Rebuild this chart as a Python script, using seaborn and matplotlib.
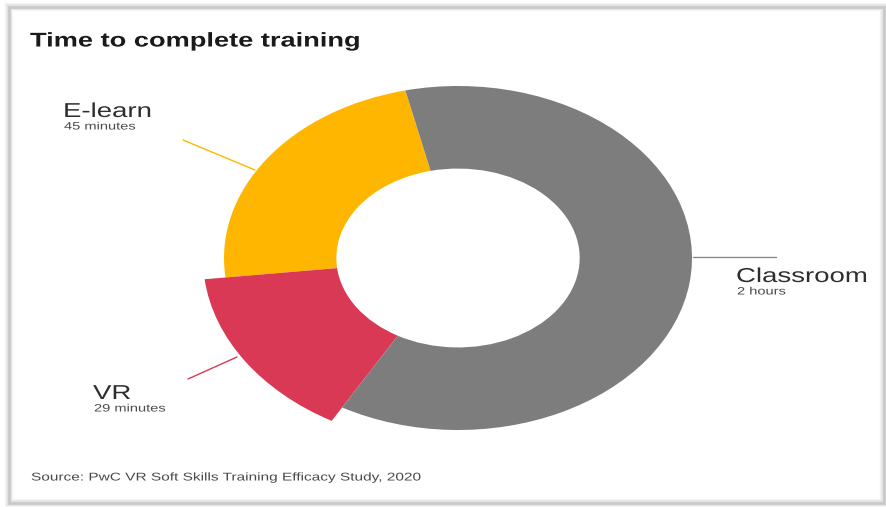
import matplotlib
matplotlib.use("Agg")
import matplotlib.pyplot as plt
from matplotlib.patches import Rectangle
from matplotlib.patheffects import AbstractPathEffect
from matplotlib.transforms import Affine2D
import seaborn as sns

sns.set_theme(style="white")
plt.rcParams["font.family"] = ["Liberation Sans", "DejaVu Sans"]

# Time to complete training, in minutes
categories = ["E-learn", "VR", "Classroom"]
minutes = [45, 29, 120]
sublabels = ["45 minutes", "29 minutes", "2 hours"]
colors = ["#FFB600", "#D93954", "#7D7D7D"]

W, H = 887, 507
SX = 1.37  # horizontal stretch shared by the ring and the lettering


class HStretch(AbstractPathEffect):
    """Widen glyphs horizontally about the text origin."""

    def __init__(self, sx):
        super().__init__()
        self.sx = sx

    def draw_path(self, renderer, gc, tpath, affine, rgbFace=None):
        renderer.draw_path(gc, tpath, Affine2D().scale(self.sx, 1) + affine, rgbFace)


stretch = [HStretch(SX)]

fig = plt.figure(figsize=(W / 100, H / 100), dpi=100)
fig.patch.set_facecolor("white")

# card frame with a soft grey edge
for lw, a in [(6, 0.10), (4, 0.18), (2, 0.35)]:
    fig.add_artist(Rectangle((9 / W, 4 / H), 875 / W, 496 / H,
                             transform=fig.transFigure, fill=False,
                             edgecolor="#9a9a9a", linewidth=lw, alpha=a))

ax = fig.add_axes([165.5 / W, 34 / H, 585 / W, 430 / H])
wedges, _ = ax.pie(minutes, colors=colors, startangle=103, counterclock=True,
                   wedgeprops=dict(width=0.48, linewidth=0))
# VR segment sticks out beyond the ring
vr = wedges[categories.index("VR")]
vr.set_radius(1.09)
vr.set_width(0.57)
ax.set_aspect("auto")
ax.set_xlim(-1.25, 1.25)
ax.set_ylim(-1.25, 1.25)
ax.axis("off")


def px(x, y):
    """figure-pixel (from top-left) to figure fraction"""
    return x / W, 1 - y / H


def add_line(p0, p1, color):
    (x0, y0), (x1, y1) = px(*p0), px(*p1)
    fig.add_artist(plt.Line2D([x0, x1], [y0, y1], color=color, lw=1.0))


# leader lines
add_line((693, 257), (776, 257), "#8a8a8a")
add_line((183, 140), (255, 170), "#FFB600")
add_line((188, 379), (237, 357), "#D93954")

# labels
label_pos = {"E-learn": (63, 117), "VR": (93, 399), "Classroom": (736, 282)}
for name, sub in zip(categories, sublabels):
    x, y = label_pos[name]
    fig.text(*px(x, y), name, fontsize=14.5, color="#2e2e2e", va="baseline",
             ha="left", path_effects=stretch)
    fig.text(*px(x + 1, y + 12.5), sub, fontsize=7.7, color="#4a4a4a",
             va="baseline", ha="left", path_effects=stretch)

fig.text(*px(30, 46.5), "Time to complete training", fontsize=14.3,
         fontweight="bold", color="#1a1a1a", va="baseline", ha="left",
         path_effects=stretch)
fig.text(*px(31, 480.5), "Source: PwC VR Soft Skills Training Efficacy Study, 2020",
         fontsize=8.1, color="#4a4a4a", va="baseline", ha="left",
         path_effects=stretch)

fig.savefig("out.png", dpi=100, facecolor="white")
